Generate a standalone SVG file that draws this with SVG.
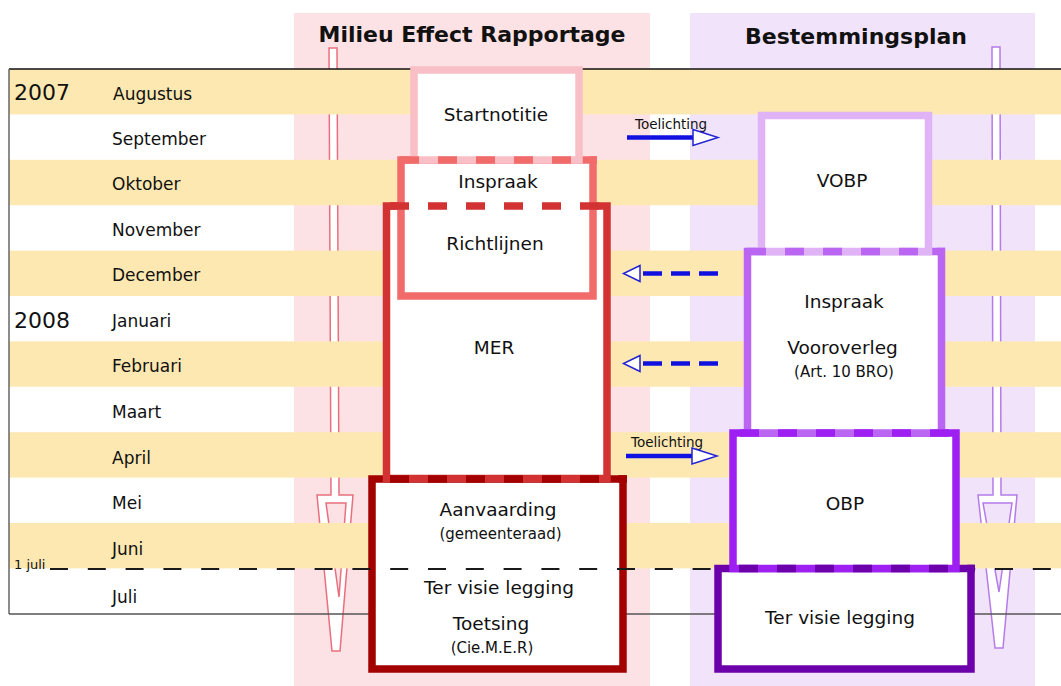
<svg xmlns="http://www.w3.org/2000/svg" width="1061" height="686" viewBox="0 0 1061 686">
<defs>
<style>
text{font-family:"DejaVu Sans",Verdana,sans-serif;fill:#111}
.hdr{font-size:22px;font-weight:bold;text-anchor:middle}
.mon{font-size:17px}
.yr{font-size:22px}
.bt{font-size:18.5px;text-anchor:middle}
.st{font-size:15px;text-anchor:middle}
.tl{font-size:13.5px}
.band{fill:#fde8b2}
.box{fill:#fff;stroke-width:7.5}
.dash{fill:none;stroke-width:7.5;stroke-dasharray:19 19}
.arrL{fill:#fff;stroke:#e8707e;stroke-width:1.5}
.arrLi{fill:#fde2e5;stroke:#e8707e;stroke-width:1.5}
.arrR{fill:#fff;stroke:#b57be8;stroke-width:1.5}
.arrRi{fill:#f1e4fa;stroke:#b57be8;stroke-width:1.5}
.bl{stroke:#1010e0;stroke-width:4.5;fill:none}
.bld{stroke:#1010e0;stroke-width:4.5;fill:none;stroke-dasharray:19 9}
.hd{fill:#fff;stroke:#2323d2;stroke-width:1.5}
</style>
</defs>
<rect width="1061" height="686" fill="#fff"/>
<!-- columns -->
<rect x="294" y="13" width="356" height="673" fill="#fde2e5"/>
<rect x="690" y="13" width="345" height="673" fill="#f1e4fa"/>
<text class="hdr" x="472" y="42">Milieu Effect Rapportage</text>
<text class="hdr" x="856" y="44">Bestemmingsplan</text>
<!-- column arrows -->
<g id="arrow-mer">
<path class="arrL" d="M329,48 L337,48 L339,495 L353,495 L340,651 L332,651 L317,495 L331,495 Z"/>
<path class="arrLi" d="M326,503 L346,503 L339,597 Z"/>
</g>
<g id="arrow-bp">
<path class="arrR" d="M992,47 L1000,47 L1001,495 L1017,495 L1003,648 L995,648 L978,495 L993,495 Z"/>
<path class="arrRi" d="M983,503 L1012,503 L999,592 Z"/>
</g>
<!-- timeline bands -->
<g id="timeline">
<rect class="band" x="9" y="69" width="1052" height="45.4"/>
<rect class="band" x="9" y="159.8" width="1052" height="45.4"/>
<rect class="band" x="9" y="250.6" width="1052" height="45.4"/>
<rect class="band" x="9" y="341.4" width="1052" height="45.4"/>
<rect class="band" x="9" y="432.2" width="1052" height="45.4"/>
<rect class="band" x="9" y="523" width="1052" height="45.4"/>
<line x1="9" y1="69" x2="1061" y2="69" stroke="#111" stroke-width="1.5"/>
<line x1="9" y1="69" x2="9" y2="614" stroke="#666" stroke-width="1.5"/>
<line x1="9" y1="614" x2="1061" y2="614" stroke="#555" stroke-width="1.3"/>
<text class="yr" x="14" y="100">2007</text>
<text class="yr" x="14" y="328">2008</text>
<text class="mon" x="113" y="100">Augustus</text>
<text class="mon" x="112" y="145">September</text>
<text class="mon" x="112" y="190">Oktober</text>
<text class="mon" x="112" y="235.5">November</text>
<text class="mon" x="112" y="281">December</text>
<text class="mon" x="112" y="326.5">Januari</text>
<text class="mon" x="112" y="372">Februari</text>
<text class="mon" x="112" y="417.5">Maart</text>
<text class="mon" x="112" y="464">April</text>
<text class="mon" x="112" y="508.5">Mei</text>
<text class="mon" x="112" y="555">Juni</text>
<text class="mon" x="112" y="602.5">Juli</text>
</g>
<!-- MER boxes -->
<g id="aanvaarding"><rect class="box" x="372" y="479" width="251" height="190" stroke="#a30000"/></g>
<g id="mer"><rect class="box" x="386.5" y="206" width="220.5" height="272.5" stroke="#d23232"/></g>
<g id="inspraak-mer"><rect class="box" x="401" y="160" width="192" height="136" stroke="#f26b6b"/></g>
<g id="startnotitie"><rect class="box" x="414" y="70" width="165" height="90" stroke="#f8c0c6"/></g>
<path class="dash" d="M400,160 H597" stroke="#f26b6b"/>
<path class="dash" d="M390,206 H611" stroke="#d23232"/>
<path class="dash" d="M390,479 H627" stroke="#a30000"/>
<!-- 1 juli -->
<text x="14" y="568.5" style="font-size:13px">1 juli</text>
<line x1="50" y1="569" x2="1061" y2="569" stroke="#1a1a1a" stroke-width="2" stroke-dasharray="18 19.8"/>
<!-- BP boxes -->
<g id="ter-visie-bp"><rect class="box" x="718" y="568.5" width="253" height="100.5" stroke="#6c00aa"/></g>
<g id="obp"><rect class="box" x="733" y="433" width="223" height="135.5" stroke="#9d1ff2"/></g>
<g id="inspraak-bp"><rect class="box" x="747.5" y="251.5" width="194" height="181.5" stroke="#bb66f2"/></g>
<g id="vobp"><rect class="box" x="761.5" y="115.5" width="167" height="136" stroke="#dfb3f5"/></g>
<path class="dash" d="M747,251.5 H945" stroke="#bb66f2"/>
<path class="dash" d="M740,433 H960" stroke="#9d1ff2"/>
<path class="dash" d="M739,568.5 H975" stroke="#6c00aa"/>
<!-- connectors -->
<g id="connectors">
<text class="tl" x="635" y="129">Toelichting</text>
<path class="bl" d="M627,137.5 H694"/>
<polygon class="hd" points="693,129.5 718,137.5 693,145.5"/>
<path class="bld" d="M718,273.5 H641"/>
<polygon class="hd" points="640,265.5 640,281.5 623.5,273.5"/>
<path class="bld" d="M718,363.5 H641"/>
<polygon class="hd" points="640,355.5 640,371.5 623.5,363.5"/>
<text class="tl" x="631" y="447">Toelichting</text>
<path class="bl" d="M626,456 H693"/>
<polygon class="hd" points="692,448 717,456 692,464"/>
</g>
<!-- box labels -->
<text class="bt" x="496" y="120.5">Startnotitie</text>
<text class="bt" x="498" y="188">Inspraak</text>
<text class="bt" x="495" y="250">Richtlijnen</text>
<text class="bt" x="494" y="354">MER</text>
<text class="bt" x="498" y="516">Aanvaarding</text>
<text class="st" x="500.5" y="538.5">(gemeenteraad)</text>
<text class="bt" x="499" y="593.5">Ter visie legging</text>
<text class="bt" x="491" y="630">Toetsing</text>
<text class="st" x="492" y="653">(Cie.M.E.R)</text>
<text class="bt" x="842" y="187">VOBP</text>
<text class="bt" x="844" y="308">Inspraak</text>
<text class="bt" x="842.5" y="353.5">Vooroverleg</text>
<text class="st" x="844" y="376.5">(Art. 10 BRO)</text>
<text class="bt" x="845" y="510">OBP</text>
<text class="bt" x="840" y="624">Ter visie legging</text>
</svg>
